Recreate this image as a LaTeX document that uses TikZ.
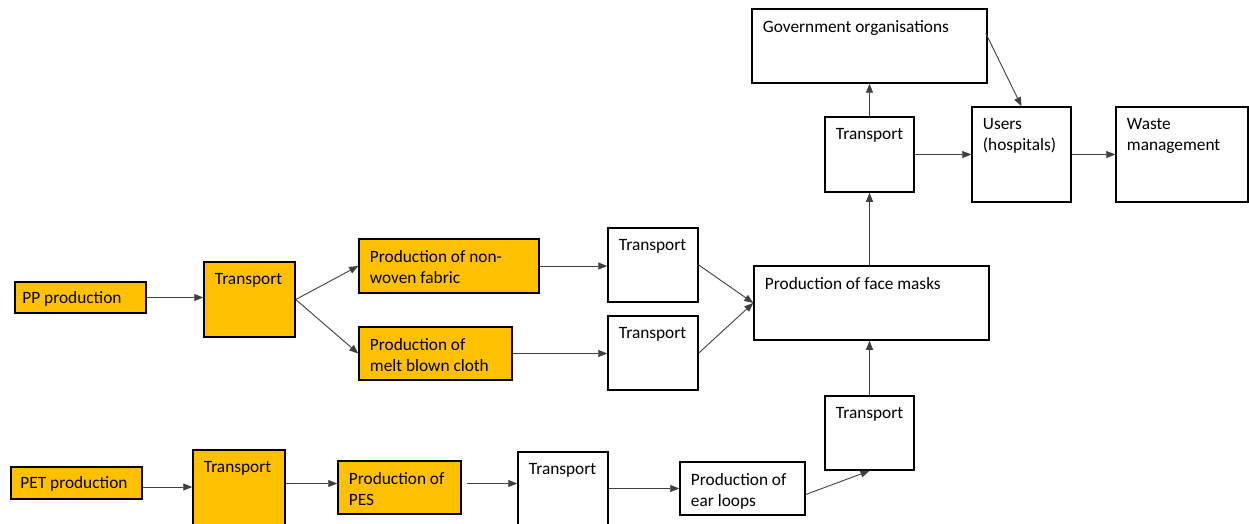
\documentclass[tikz,border=0pt]{standalone}
\usepackage{fontspec}
\setmainfont{Carlito}
\usetikzlibrary{arrows.meta, positioning, calc}
\definecolor{BoxGold}{RGB}{255,192,0}
\definecolor{ArrowGray}{RGB}{64,64,64}
\tikzset{
  blk/.style={draw, line width=1.5pt, rectangle, inner sep=0pt, fill=white},
  gold/.style={blk, fill=BoxGold},
  tag/.style={anchor=north west, inner xsep=11.5pt, inner ysep=12pt, align=left,
    font=\fontsize{17.3pt}{21.4pt}\selectfont},
  flow/.style={draw=ArrowGray, line width=0.9pt, -{Triangle[length=9pt,width=7pt]}}
}
\begin{document}
\begin{tikzpicture}[x=1pt, y=-1pt]
\clip (0,0) rectangle (1249,524);

% PP branch
\node[gold, minimum width=131pt, minimum height=31pt, label={[tag, inner ysep=10.5pt, inner xsep=8pt]north west:PP production}] (pp) at (80.5,297.5) {};
\node[gold, minimum width=91pt, minimum height=75pt, label={[tag]north west:Transport}] (t1) at (249.5,299.5) {};
\node[gold, minimum width=180pt, minimum height=54pt, label={[tag]north west:Production of non-\\woven fabric}] (nw) at (449,266) {};
\node[gold, minimum width=153pt, minimum height=53pt, label={[tag]north west:Production of\\melt blown cloth}] (mb) at (435.5,353.5) {};
\node[blk, minimum width=90pt, minimum height=74pt, label={[tag]north west:Transport}] (t2) at (653,265) {};
\node[blk, minimum width=90pt, minimum height=74pt, label={[tag]north west:Transport}] (t3) at (653,353) {};

% masks and users
\node[blk, minimum width=235pt, minimum height=74pt, label={[tag]north west:Production of face masks}] (fm) at (871.5,303) {};
\node[blk, minimum width=89pt, minimum height=75pt, label={[tag]north west:Transport}] (t4) at (869.5,154.5) {};
\node[blk, minimum width=235pt, minimum height=74pt, label={[tag]north west:Government organisations}] (gov) at (869.5,46) {};
\node[blk, minimum width=99pt, minimum height=95pt, label={[tag]north west:Users\\(hospitals)}] (usr) at (1021.5,154.5) {};
\node[blk, minimum width=132pt, minimum height=95pt, label={[tag]north west:Waste\\management}] (wst) at (1182,154.5) {};
\node[blk, minimum width=89pt, minimum height=74pt, label={[tag]north west:Transport}] (t5) at (869.5,433) {};

% PET branch
\node[gold, minimum width=131pt, minimum height=32pt, label={[tag, inner ysep=10.5pt, inner xsep=10pt]north west:PET production}] (pet) at (76.5,483) {};
\node[gold, minimum width=92pt, minimum height=76pt, label={[tag]north west:Transport}] (t6) at (239,488) {};
\node[gold, minimum width=123pt, minimum height=53pt, label={[tag]north west:Production of\\PES}] (pes) at (399.5,487.5) {};
\node[blk, minimum width=90pt, minimum height=76pt, label={[tag]north west:Transport}] (t7) at (563,490) {};
\node[blk, minimum width=125pt, minimum height=53pt, label={[tag]north west:Production of\\ear loops}] (ear) at (742.5,488.5) {};

\coordinate (govout) at ($(gov.north east)+(-2,25)$);
\coordinate (earout) at ($(ear.east)+(0,6)$);
\coordinate (pesin) at ($(pes.west)+(0,-4)$);
\coordinate (pesout) at ($(pes.east)+(5,-4)$);

% connectors
\draw[flow] (pp.east) -- (pp.east -| t1.west);
\draw[flow] (t1.east) -- (nw.west);
\draw[flow] (t1.east) -- (mb.west);
\draw[flow] (nw.east) -- (nw.east -| t2.west);
\draw[flow] (mb.east) -- (mb.east -| t3.west);
\draw[flow] (t2.east) -- (fm.west);
\draw[flow] (t3.east) -- (fm.west);
\draw[flow] (t4.south |- fm.north) -- (t4.south);
\draw[flow] (t4.north) -- (gov.south);
\draw[flow] (t4.east) -- (usr.west);
\draw[flow] (govout) -- (usr.north);
\draw[flow] (usr.east) -- (wst.west);
\draw[flow] (t5.north) -- (t5.north |- fm.south);
\draw[flow] (earout) -- (t5.south);
\draw[flow] ([yshift=-4pt]pet.east) -- ([yshift=-4pt]pet.east -| t6.west);
\draw[flow] (pesin -| t6.east) -- (pesin);
\draw[flow] (pesout) -- (pesout -| t7.west);
\draw[flow] (t7.east |- ear.west) -- (ear.west);
\end{tikzpicture}
\end{document}
